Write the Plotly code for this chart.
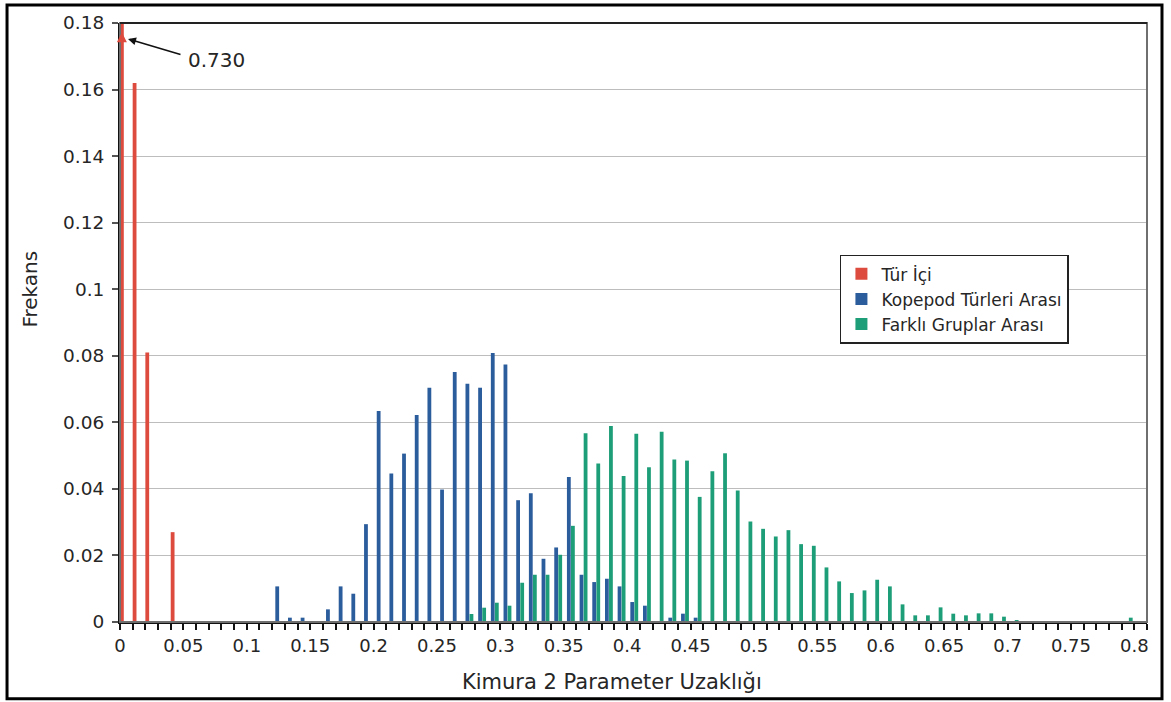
import plotly.graph_objects as go

# Bin starts (Kimura 2-parameter distance, 0.01 wide bins)
bins = [round(0.01 * k, 2) for k in range(81)]

tur_ici = [
    0.730, 0.162, 0.081, 0, 0.027, 0, 0, 0, 0, 0,
    0, 0, 0, 0, 0, 0, 0, 0, 0, 0,
    0, 0, 0, 0, 0, 0, 0, 0, 0, 0,
    0, 0, 0, 0, 0, 0, 0, 0, 0, 0,
    0, 0, 0, 0, 0, 0, 0, 0, 0, 0,
    0, 0, 0, 0, 0, 0, 0, 0, 0, 0,
    0, 0, 0, 0, 0, 0, 0, 0, 0, 0,
    0, 0, 0, 0, 0, 0, 0, 0, 0, 0,
    0,
]

kopepod = [
    0, 0, 0, 0, 0, 0, 0, 0, 0, 0,
    0, 0, 0.0107, 0.0013, 0.0013, 0, 0.0038, 0.0107, 0.0085, 0.0294,
    0.0634, 0.0446, 0.0506, 0.0622, 0.0704, 0.0398, 0.0751, 0.0716, 0.0704, 0.0808,
    0.0774, 0.0366, 0.0387, 0.0190, 0.0224, 0.0436, 0.0142, 0.0120, 0.0130, 0.0107,
    0.0060, 0.0049, 0, 0.0013, 0.0025, 0.0013, 0, 0, 0, 0,
    0, 0, 0, 0, 0, 0, 0, 0, 0, 0,
    0, 0, 0, 0, 0, 0, 0, 0, 0, 0,
    0, 0, 0, 0, 0, 0, 0, 0, 0, 0,
    0,
]

farkli = [
    0, 0, 0, 0, 0, 0, 0, 0, 0, 0,
    0, 0, 0, 0, 0, 0, 0, 0, 0, 0,
    0, 0, 0, 0, 0, 0, 0, 0.0024, 0.0043, 0.0058,
    0.0049, 0.0118, 0.0142, 0.0142, 0.0202, 0.0289, 0.0567, 0.0476, 0.0589, 0.0439,
    0.0566, 0.0465, 0.0572, 0.0488, 0.0485, 0.0376, 0.0453, 0.0507, 0.0395, 0.0302,
    0.0280, 0.0257, 0.0276, 0.0234, 0.0229, 0.0164, 0.0122, 0.0087, 0.0095, 0.0127,
    0.0107, 0.0053, 0.0020, 0.0020, 0.0044, 0.0025, 0.0020, 0.0026, 0.0026, 0.0016,
    0.0004, 0, 0, 0.0003, 0, 0.0003, 0, 0, 0, 0.0013,
    0,
]

series_names = ["Tür İçi", "Kopepod Türleri Arası", "Farklı Gruplar Arası"]
colors = ["#DD4B3E", "#2B5C9B", "#1E9E78"]
offsets = [0.0, 0.0025, 0.0057]
BAR_W = 0.003

FONT = "DejaVu Sans, Liberation Sans, Arial, sans-serif"
TXT = "#262626"

fig = go.Figure()
for name, vals, col, off in zip(series_names, [tur_ici, kopepod, farkli], colors, offsets):
    fig.add_trace(go.Bar(
        x=bins, y=vals, name=name,
        marker=dict(color=col, line=dict(width=0)),
        width=BAR_W, offset=off,
    ))

fig.update_layout(
    width=1171, height=702,
    margin=dict(l=120, r=24, t=20, b=80),
    paper_bgcolor="white", plot_bgcolor="white",
    barmode="overlay",
    font=dict(family=FONT, color=TXT, size=18),
    showlegend=True,
    legend=dict(
        x=0.701, y=0.613, xanchor="left", yanchor="top",
        bgcolor="white", bordercolor="#222222", borderwidth=1.5,
        font=dict(size=17, family=FONT, color=TXT),
        tracegroupgap=0,
    ),
    xaxis=dict(
        range=[0, 0.81], tick0=0, dtick=0.05,
        showgrid=False, zeroline=False,
        showline=True, linecolor="#111111", linewidth=2,
        ticks="outside", ticklen=6, tickcolor="#111111", tickwidth=1.5,
        minor=dict(dtick=0.01, tick0=0, ticks="outside", ticklen=6,
                   tickcolor="#111111", tickwidth=1.5, showgrid=False),
        tickfont=dict(size=18, family=FONT, color=TXT),
    ),
    yaxis=dict(
        range=[0, 0.18], tick0=0, dtick=0.02,
        showgrid=True, gridcolor="#bdbdbd", gridwidth=1.3,
        zeroline=False,
        showline=True, linecolor="#111111", linewidth=2,
        ticks="outside", ticklen=6, tickcolor="#555555", tickwidth=1.5,
        ticklabelstandoff=4,
        tickfont=dict(size=18.5, family=FONT, color=TXT),
    ),
)

# plot-area frame and outer image frame
fig.add_shape(type="rect", xref="paper", yref="paper", x0=0, x1=1, y0=0, y1=1,
              line=dict(color="#6f6f6f", width=2), layer="above")
fig.add_shape(type="line", xref="paper", yref="paper", x0=0, x1=1, y0=1, y1=1,
              line=dict(color="#222222", width=2), layer="above")
fig.add_shape(type="rect", xref="paper", yref="paper",
              x0=-0.110, x1=1.0146, y0=-0.128, y1=1.030,
              line=dict(color="#000000", width=3), layer="above")

# axis titles
fig.add_annotation(text="Kimura 2 Parameter Uzaklığı", xref="paper", yref="paper",
                   x=0.479, y=-0.0997, xanchor="center", yanchor="middle",
                   showarrow=False, font=dict(size=21, family=FONT, color=TXT))
fig.add_annotation(text="Frekans", xref="paper", yref="paper",
                   x=-0.0876, y=0.555, xanchor="center", yanchor="middle",
                   textangle=-90, showarrow=False,
                   font=dict(size=20, family=FONT, color=TXT))

# truncated first bar indicator
fig.add_annotation(x=0.0015, y=0.1772, xref="x", yref="y", text="",
                   showarrow=True, ax=0, ay=10, arrowhead=2, arrowsize=1,
                   arrowwidth=2, arrowcolor="#DD4B3E")
fig.add_annotation(x=0.0063, y=0.1752, xref="x", yref="y", text="",
                   showarrow=True, ax=54, ay=16, arrowhead=2, arrowsize=1,
                   arrowwidth=1.6, arrowcolor="#111111")
fig.add_annotation(x=0.0765, y=0.169, xref="x", yref="y", text="0.730",
                   showarrow=False, xanchor="center", yanchor="middle",
                   font=dict(size=20, family=FONT, color=TXT))

fig.write_html("out.html")
